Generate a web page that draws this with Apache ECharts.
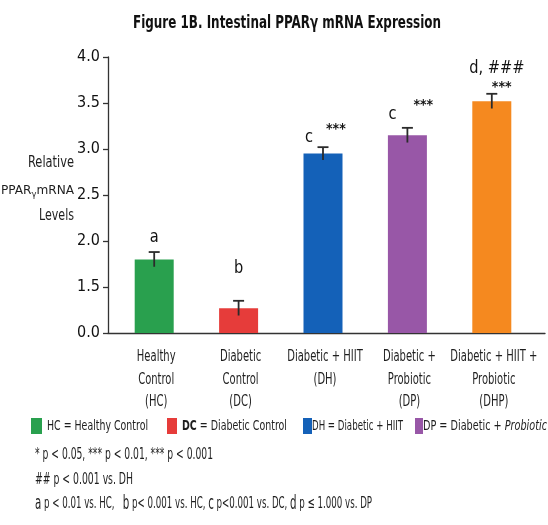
<!DOCTYPE html>
<html><head><meta charset="utf-8">
<script src="https://cdn.jsdelivr.net/npm/echarts@6/dist/echarts.min.js"></script>
<style>html,body{margin:0;padding:0;background:#fff}#c{width:548px;height:525px}</style>
</head><body><div id="c"></div>
<script>
const categories = ['Healthy\nControl\n(HC)', 'Diabetic\nControl\n(DC)', 'Diabetic + HIIT\n(DH)', 'Diabetic +\nProbiotic\n(DP)', 'Diabetic + HIIT +\nProbiotic\n(DHP)'];
const means = [1.80, 1.27, 2.95, 3.15, 3.52];
const errors = [0.08, 0.08, 0.07, 0.08, 0.08];
const letters = ['a', 'b', 'c', 'c', 'd, ###'];
const stars = ['', '', '***', '***', '***'];
const yTickLabels = ['0.0', '1.5', '2.0', '2.5', '3.0', '3.5', '4.0'];
const yMin = 1.0, yMax = 4.0, yStep = 0.5;

// style config (not data)
const barColors = ['#29a04e', '#e63c3a', '#1461b8', '#9857a7', '#f5891f'];
const letterOffsets = [[0, -15], [0, -32], [-14, -10], [-15, -14], [5, -25]];
const starOffsets = [[0, 0], [0, 0], [3, -18], [6, -22], [0, -6]];
const FONT = '"DejaVu Sans Condensed", "Liberation Sans Narrow", sans-serif';
const INK = '#1e1e1e';

const mctx = document.createElement('canvas').getContext('2d');
function measure(segs) {
  let s = 0;
  segs.forEach(([t, f]) => { mctx.font = f; s += mctx.measureText(t).width; });
  return s;
}

const chart = echarts.init(document.getElementById('c'), null, {renderer: 'canvas'});

function fit(text, segs, x, y, width, font, align, extra) {
  const sx = width / measure(segs);
  return {type: 'text', x: x, y: y, scaleX: sx, style: Object.assign({
    text: text, x: 0, y: 0, textAlign: align || 'left', textVerticalAlign: 'middle', font: font, fill: INK
  }, extra || {})};
}
function plain(text, x, y, width, font, align, extra) {
  return fit(text, [[text, font]], x, y, width, font, align, extra);
}

const F16 = '16px ' + FONT;
const F15 = '15px ' + FONT;
const F14 = '14px ' + FONT;
const F13 = '13px ' + FONT;

const legendItems = [
  {color: barColors[0], sw: [31, 11], tx: 47, tw: 101, rich: '{n|HC} = Healthy Control', segs: [['HC = Healthy Control', F14]]},
  {color: barColors[1], sw: [167, 10], tx: 182, tw: 105, rich: '{b|DC} = Diabetic Control', segs: [['DC', 'bold ' + F14], [' = Diabetic Control', F14]]},
  {color: barColors[2], sw: [303, 9], tx: 312, tw: 91, rich: '{n|DH} = Diabetic + HIIT', segs: [['DH = Diabetic + HIIT', F14]]},
  {color: barColors[3], sw: [415, 8], tx: 423, tw: 124, rich: '{n|DP} = Diabetic + {i|Probiotic}', segs: [['DP = Diabetic + ', F14], ['Probiotic', 'italic ' + F14]]}
];

const line3 = '{L|a} p < 0.01 vs. HC,   {L|b} p< 0.001 vs. HC, {L|c} p<0.001 vs. DC, {L|d} p ≤ 1.000 vs. DP';
const line3Segs = [['a', '19px ' + FONT], [' p < 0.01 vs. HC,   ', F16], ['b', '19px ' + FONT], [' p< 0.001 vs. HC, ', F16], ['c', '19px ' + FONT], [' p<0.001 vs. DC, ', F16], ['d', '19px ' + FONT], [' p ≤ 1.000 vs. DP', F16]];

const graphics = [
  plain('Figure 1B. Intestinal PPARγ mRNA Expression', 287, 23, 308, 'bold 18px ' + FONT, 'center', {fill: '#111'}),
  plain('Relative', 74, 163, 46, '16px ' + FONT, 'right'),
  fit('{a|PPAR}{s|γ}{a|mRNA}', [['PPARmRNA', F13], ['γ', '9px ' + FONT]], 74, 191, 73, F13, 'right',
      {rich: {a: {fontSize: 13, fontFamily: FONT, color: INK}, s: {fontSize: 9, fontFamily: FONT, padding: [7, 0, 0, 0], color: INK}}}),
  plain('Levels', 74, 216, 35, '16px ' + FONT, 'right'),
  plain('* p < 0.05, *** p < 0.01, *** p < 0.001', 35, 455, 178, F16, 'left'),
  plain('## p < 0.001 vs. DH', 35, 480, 98, F16, 'left'),
  fit(line3, line3Segs, 35, 504, 337, F16, 'left', {rich: {L: {fontSize: 19, fontFamily: FONT, color: '#111'}}})
];
legendItems.forEach(it => {
  graphics.push({type: 'rect', shape: {x: it.sw[0], y: 418, width: it.sw[1], height: 16}, style: {fill: it.color}});
  graphics.push(fit(it.rich, it.segs, it.tx, 426, it.tw, F14, 'left', {
    rich: {
      n: {fontSize: 14, fontFamily: FONT, color: INK},
      b: {fontSize: 14, fontFamily: FONT, fontWeight: 'bold', color: '#111'},
      i: {fontSize: 14, fontFamily: FONT, fontStyle: 'italic', color: INK}
    }
  }));
});

const catScale = 0.74;

chart.setOption({
  animation: false,
  backgroundColor: '#fff',
  graphic: graphics,
  grid: [
    {left: 112, right: 14, top: 57, bottom: 192},
    {left: 108, right: 3, top: 57, bottom: 192}
  ],
  xAxis: [
    {type: 'category', gridIndex: 0, data: categories, axisLine: {show: false}, axisTick: {show: false}, axisLabel: {show: false}},
    {type: 'category', gridIndex: 1, data: [''], axisLine: {show: true, lineStyle: {color: '#333', width: 1.3}}, axisTick: {show: false}, axisLabel: {show: false}}
  ],
  yAxis: [
    {type: 'value', gridIndex: 0, min: yMin, max: yMax, interval: yStep, show: false},
    {type: 'value', gridIndex: 1, min: yMin, max: yMax, interval: yStep,
     axisLine: {show: true, lineStyle: {color: '#333', width: 1.3}},
     axisTick: {show: true, inside: false, length: 5, lineStyle: {color: '#333', width: 1.3}},
     splitLine: {show: false},
     axisLabel: {margin: 8, fontSize: 16, fontFamily: FONT, color: '#111',
       formatter: v => yTickLabels[Math.round((v - yMin) / yStep)]}}
  ],
  series: [
    {type: 'bar', xAxisIndex: 0, yAxisIndex: 0, barWidth: 39,
     data: means.map((m, i) => ({value: m, itemStyle: {color: barColors[i]}}))},
    {type: 'custom', xAxisIndex: 0, yAxisIndex: 0, z: 5,
     data: means.map((m, i) => [i, m, errors[i]]),
     renderItem: (params, api) => {
       const i = api.value(0), m = api.value(1), e = api.value(2);
       const top = api.coord([i, m + e]);
       const bot = api.coord([i, m - e]);
       const hw = 5.5;
       const st = {stroke: '#2b2b2b', lineWidth: 1.8};
       return {type: 'group', children: [
         {type: 'line', shape: {x1: top[0], y1: top[1], x2: bot[0], y2: bot[1]}, style: st},
         {type: 'line', shape: {x1: top[0] - hw, y1: top[1], x2: top[0] + hw, y2: top[1]}, style: st}
       ]};
     }},
    {type: 'custom', xAxisIndex: 0, yAxisIndex: 0, z: 6,
     data: means.map((m, i) => [i, m + errors[i]]),
     renderItem: (params, api) => {
       const i = api.value(0);
       const p = api.coord([i, api.value(1)]);
       const lo = letterOffsets[i], so = starOffsets[i];
       const children = [
         {type: 'text', x: p[0] + lo[0], y: p[1] + lo[1], scaleX: 0.9, style: {text: letters[i], x: 0, y: 0, textAlign: 'center', textVerticalAlign: 'middle', font: '18px ' + FONT, fill: '#111'}}
       ];
       if (stars[i]) children.push({type: 'text', x: p[0] + so[0], y: p[1] + so[1], style: {text: stars[i], x: 0, y: 0, textAlign: 'left', textVerticalAlign: 'middle', font: 'bold 14px ' + FONT, fill: '#111'}});
       return {type: 'group', children};
     }},
    {type: 'custom', xAxisIndex: 0, yAxisIndex: 0, z: 6,
     data: categories.map((c, i) => [i, yMin]),
     renderItem: (params, api) => {
       const i = api.value(0);
       const p = api.coord([i, api.value(1)]);
       return {type: 'text', x: p[0] + 2, y: p[1] + 13, scaleX: catScale,
         style: {text: categories[i], x: 0, y: 0, textAlign: 'center', textVerticalAlign: 'top', font: F15, lineHeight: 22.5, fill: INK}};
     }}
  ]
});
</script></body></html>
